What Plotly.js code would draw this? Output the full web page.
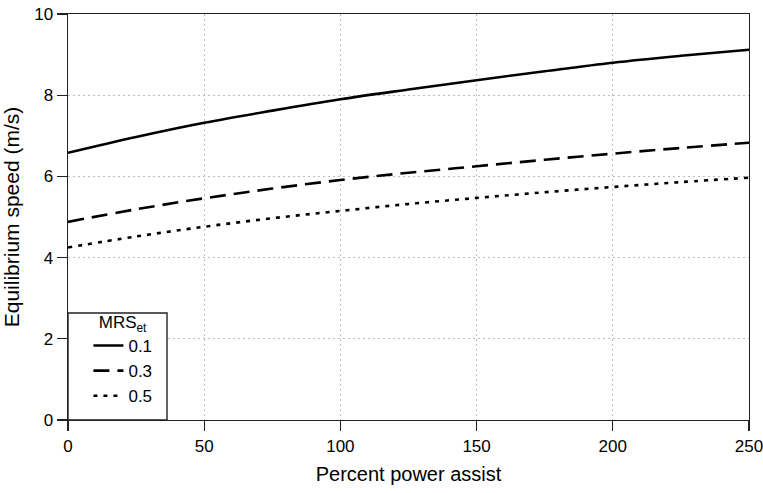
<!DOCTYPE html>
<html>
<head>
<meta charset="utf-8">
<script src="https://cdn.plot.ly/plotly-3.0.1.min.js"></script>
<style>html,body{margin:0;padding:0;background:#fff;}#chart{width:763px;height:493px;}</style>
</head>
<body>
<div id="chart"></div>
<script>
const powerAssist = [0, 25, 50, 75, 100, 125, 150, 175, 200, 225, 250];
const speedMRS01 = [6.58, 6.97, 7.32, 7.62, 7.90, 8.14, 8.37, 8.59, 8.80, 8.97, 9.12];
const speedMRS03 = [4.88, 5.19, 5.46, 5.70, 5.91, 6.09, 6.25, 6.41, 6.56, 6.70, 6.83];
const speedMRS05 = [4.25, 4.52, 4.76, 4.97, 5.15, 5.32, 5.47, 5.61, 5.74, 5.86, 5.97];
const seriesNames = ['0.1', '0.3', '0.5'];
const xTicks = [0, 50, 100, 150, 200, 250];
const yTicks = [0, 2, 4, 6, 8, 10];

const fam = 'Liberation Sans, Arial, sans-serif';
const font = {family: fam, size: 17, color: '#000'};
const mk = (y, name, dash) => ({
  x: powerAssist, y: y, name: name, type: 'scatter', mode: 'lines',
  line: {color: '#000', width: 2.6, dash: dash, shape: 'spline'}
});
const data = [
  mk(speedMRS01, seriesNames[0], 'solid'),
  mk(speedMRS03, seriesNames[1], '16px,8px'),
  mk(speedMRS05, seriesNames[2], '4px,6px')
];
const axisCommon = {
  showline: true, linecolor: '#222', linewidth: 1.4, mirror: true,
  ticks: 'outside', ticklen: 10, tickwidth: 1.4, tickcolor: '#222',
  showgrid: true, gridcolor: '#bdbdbd', griddash: '2px,3px', gridwidth: 1,
  zeroline: false, tickfont: font, ticklabeloverflow: 'allow'
};
const layout = {
  width: 763, height: 493,
  margin: {l: 68, r: 14, t: 14, b: 73},
  paper_bgcolor: '#fff', plot_bgcolor: '#fff',
  font: font,
  showlegend: true,
  xaxis: Object.assign({}, axisCommon, {
    range: [0, 250], tickvals: xTicks, ticktext: xTicks.map(String),
    title: {text: 'Percent power assist', font: {family: fam, size: 20, color: '#000'}, standoff: 12}
  }),
  yaxis: Object.assign({}, axisCommon, {
    range: [0, 10], tickvals: yTicks, ticktext: yTicks.map(String),
    title: {text: 'Equilibrium speed (m/s)', font: {family: fam, size: 21, color: '#000'}, standoff: 10}
  }),
  shapes: [{
    type: 'rect', xref: 'paper', yref: 'paper', x0: 0, x1: 0.1454, y0: 0, y1: 0.2635,
    line: {color: '#222', width: 1.4}, fillcolor: '#fff', layer: 'above'
  }],
  legend: {
    x: 0.03, y: 0.015, xanchor: 'left', yanchor: 'bottom',
    borderwidth: 0, bgcolor: 'rgba(0,0,0,0)',
    font: {family: fam, size: 17, color: '#000'}, tracegroupgap: 0,
    title: {text: 'MRS<sub>et</sub>', font: {family: fam, size: 17, color: '#000'}, side: 'top center'}
  }
};
Plotly.newPlot('chart', data, layout, {displayModeBar: false, staticPlot: true});
</script>
</body>
</html>
